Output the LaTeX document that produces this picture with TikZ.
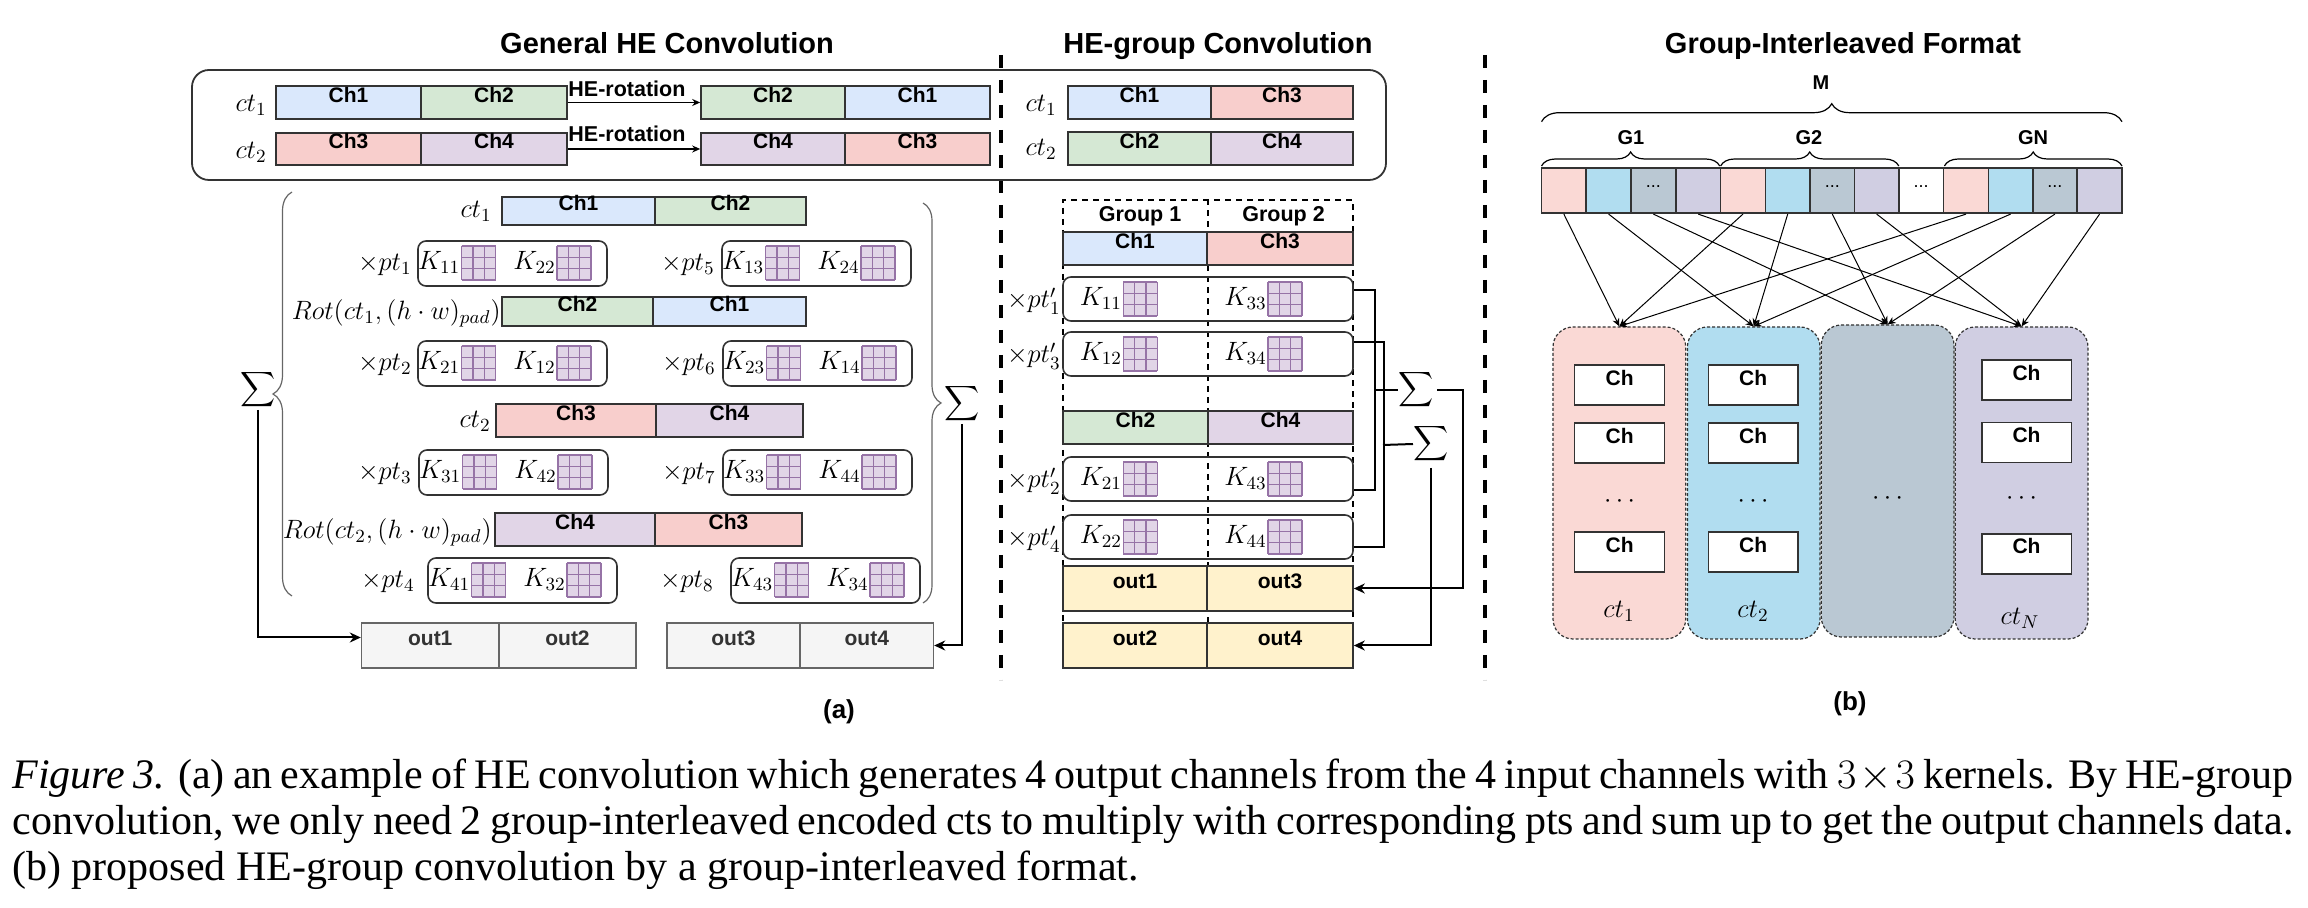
\RequirePackage{fix-cm}
\documentclass[tikz,border=0pt]{standalone}
\usepackage{fontspec}
\setmainfont{Liberation Serif}
\newfontfamily\arialf{Liberation Sans}
\usetikzlibrary{arrows.meta,fit,decorations.pathreplacing,calc}
\definecolor{chblue}{HTML}{DAE8FC}
\definecolor{chgreen}{HTML}{D5E8D4}
\definecolor{chred}{HTML}{F8CECC}
\definecolor{chpurple}{HTML}{E1D5E7}
\definecolor{bord}{HTML}{333333}
\definecolor{kline}{HTML}{9673A6}
\definecolor{kfill}{HTML}{E1D5E7}
\definecolor{ogfill}{HTML}{F5F5F5}
\definecolor{ogline}{HTML}{666666}
\definecolor{oyfill}{HTML}{FFF2CC}
\definecolor{bpink}{HTML}{FAD9D5}
\definecolor{bblue}{HTML}{B1DDF0}
\definecolor{bgray}{HTML}{BAC8D3}
\definecolor{blav}{HTML}{D0CEE2}
\newcommand{\chfont}{\arialf\bfseries\fontsize{10.5}{12}\selectfont}
\newcommand{\mfont}{\fontsize{13.25}{16}\selectfont}
\newcommand{\bigsum}{\scalebox{1.22}{$\displaystyle\sum$}}
\newcommand{\cbx}[7]{\node[#1, fit={(#3,#4)(#5,#6)}] (#2) {#7};}
\newcommand{\kent}[4]{%
  \node[mlab, anchor=base east] (#1) at (#2-1,#3+24) {$K_{#4}$};
  \pic at (#2,#3) {kg};}
\newcommand{\ptA}[7]{%
  \node[ptbox, fit={(#2,#3)(#2+189,#3+45)}] (#1) {};
  \node[mlab, anchor=base east] (#1l) at (#4,#3+30) {$\times #5$};
  \kent{#1ka}{#2+43.6}{#3+5}{#6}
  \kent{#1kb}{#2+139}{#3+5}{#7}}
\newcommand{\ptB}[5]{%
  \node[ptbox, fit={(1063,#2)(1353,#2+44)}] (#1) {};
  \node[mlab, anchor=base east] (#1l) at (1061,#2+31) {$\times #3$};
  \kent{#1ka}{1123.3}{#2+5}{#4}
  \kent{#1kb}{1268}{#2+5}{#5}}
\tikzset{
  cb/.style={draw=bord, line width=0.8pt, inner sep=0pt, font=\chfont},
  ptbox/.style={draw=bord, line width=0.8pt, rounded corners=4pt, inner sep=0pt},
  mlab/.style={font=\mfont, inner sep=0pt},
  sig/.style={inner sep=0pt},
  ogray/.style={draw=ogline, line width=0.7pt, fill=ogfill, inner sep=0pt, font=\chfont, text=bord},
  oyel/.style={draw=bord, line width=0.8pt, fill=oyfill, inner sep=0pt, font=\chfont},
  conn/.style={line width=1pt},
  arr/.style={line width=1pt, -{Stealth[length=5.5pt,width=5pt]}},
  thinarr/.style={line width=0.7pt, -{Stealth[length=4pt,width=3.5pt]}},
  barr/.style={line width=0.5pt, -{Stealth[length=4pt,width=3.5pt]}},
  sep/.style={line width=2pt, dash pattern=on 6.5pt off 6pt},
  gdash/.style={draw=black, line width=0.8pt, dash pattern=on 3pt off 2.5pt},
  gbrace/.style={draw=ogline, line width=0.6pt, decorate},
  bbrace/.style={draw=black, line width=0.6pt, decorate},
  ttl/.style={font=\arialf\bfseries\fontsize{14.5}{17}\selectfont, inner sep=0pt},
  hdr/.style={font=\arialf\bfseries\fontsize{10.75}{12}\selectfont, inner sep=0pt},
  cell/.style={draw=bord, line width=0.8pt, inner sep=0pt, font=\arialf\fontsize{9}{11}\selectfont},
  ctb/.style={draw=bord, line width=0.6pt, dash pattern=on 1.5pt off 1pt, rounded corners=10pt, inner sep=0pt},
  inb/.style={draw=bord, line width=0.8pt, fill=white, inner sep=0pt, font=\chfont},
  capt/.style={font=\fontsize{21}{24}\selectfont, inner sep=0pt},
  kg/.pic={\fill[kfill] (0,0) rectangle (34,34);
    \foreach \i in {0,11.333,22.667,34}{\draw[kline, line width=0.6pt] (\i,0)--(\i,34) (0,\i)--(34,\i);}}
}
\begin{document}
\begin{tikzpicture}[x=0.5pt,y=-0.5pt]
\useasboundingbox (0,0) rectangle (2308,908);
% titles
\node[ttl, anchor=base] (t1) at (667,54) {General HE Convolution};
\node[ttl, anchor=base] (t2) at (1218,54) {HE-group Convolution};
\node[ttl, anchor=base] (t3) at (1843,54) {Group-Interleaved Format};
% separators
\coordinate (s1a) at (1001,55); \coordinate (s1b) at (1001,680);
\coordinate (s2a) at (1485,55); \coordinate (s2b) at (1485,680);
\draw[sep] (s1a) -- (s1b);
\draw[sep] (s2a) -- (s2b);
% top box
\node[draw=bord, line width=0.9pt, rounded corners=8.5pt, inner sep=0pt, fit={(192,70)(1386,180)}] (topbox) {};
\node[mlab, anchor=base east] (l1) at (267,112) {$ct_1$};
\node[mlab, anchor=base east] (l2) at (267,159) {$ct_2$};
\cbx{cb,fill=chblue}{a1}{276}{86}{421}{119}{Ch1}
\cbx{cb,fill=chgreen}{a2}{421}{86}{567}{119}{Ch2}
\cbx{cb,fill=chred}{a3}{276}{133}{421}{165}{Ch3}
\cbx{cb,fill=chpurple}{a4}{421}{133}{567}{165}{Ch4}
\cbx{cb,fill=chgreen}{b2}{701}{86}{845}{119}{Ch2}
\cbx{cb,fill=chblue}{b1}{845}{86}{990}{119}{Ch1}
\cbx{cb,fill=chpurple}{b4}{701}{133}{845}{165}{Ch4}
\cbx{cb,fill=chred}{b3}{845}{133}{990}{165}{Ch3}
\draw[thinarr] (a2.east) -- (b2.west);
\draw[thinarr] (a4.east) -- (b4.west);
\node[hdr, anchor=base west] (hr1) at (568,97) {HE-rotation};
\node[hdr, anchor=base west] (hr2) at (568,142) {HE-rotation};
\node[mlab, anchor=base east] (g1l) at (1057,112) {$ct_1$};
\node[mlab, anchor=base east] (g2l) at (1057,156) {$ct_2$};
\cbx{cb,fill=chblue}{g1}{1068}{86}{1211}{119}{Ch1}
\cbx{cb,fill=chred}{g3}{1211}{86}{1353}{119}{Ch3}
\cbx{cb,fill=chgreen}{g2}{1068}{132}{1211}{165}{Ch2}
\cbx{cb,fill=chpurple}{g4}{1211}{132}{1353}{165}{Ch4}
% ---- general convolution lower part
\node[mlab, anchor=base east] (lc1) at (492,218) {$ct_1$};
\cbx{cb,fill=chblue}{r1a}{502}{197}{655}{225}{Ch1}
\cbx{cb,fill=chgreen}{r1b}{655}{197}{806}{225}{Ch2}
\ptA{p1}{418}{241}{412}{pt_1}{11}{22}
\ptA{p5}{722}{241}{715}{pt_5}{13}{24}
\node[mlab, anchor=base east] (rot1) at (501,320) {$Rot(ct_1,(h\cdot w)_{pad})$};
\cbx{cb,fill=chgreen}{r2a}{502}{297}{653}{326}{Ch2}
\cbx{cb,fill=chblue}{r2b}{653}{297}{806}{326}{Ch1}
\ptA{p2}{418}{341}{412}{pt_2}{21}{12}
\ptA{p6}{723}{341}{716}{pt_6}{23}{14}
\node[mlab, anchor=base east] (lc2) at (491,428) {$ct_2$};
\cbx{cb,fill=chred}{r3a}{496}{404}{656}{437}{Ch3}
\cbx{cb,fill=chpurple}{r3b}{656}{404}{803}{437}{Ch4}
\ptA{p3}{419}{450}{412}{pt_3}{31}{42}
\ptA{p7}{723}{450}{716}{pt_7}{33}{44}
\node[mlab, anchor=base east] (rot2) at (492,539) {$Rot(ct_2,(h\cdot w)_{pad})$};
\cbx{cb,fill=chpurple}{r4a}{495}{513}{655}{546}{Ch4}
\cbx{cb,fill=chred}{r4b}{655}{513}{802}{546}{Ch3}
\ptA{p4}{428}{558}{415}{pt_4}{41}{32}
\ptA{p8}{731}{558}{714}{pt_8}{43}{34}
\draw[gbrace, decoration={brace, amplitude=9.5pt}] (292,596) -- (292,192);
\draw[gbrace, decoration={brace, amplitude=9pt}] (923,203) -- (923,603);
\node[sig] (sigL) at (258,390) {\bigsum};
\node[sig] (sigR) at (962,404) {\bigsum};
\cbx{ogray}{o1}{361.5}{623}{499}{668}{out1}
\cbx{ogray}{o2}{499}{623}{636}{668}{out2}
\cbx{ogray}{o3}{667}{623}{800}{668}{out3}
\cbx{ogray}{o4}{800}{623}{933.5}{668}{out4}
\draw[arr] (sigL.south) |- ([yshift=4pt]o1.west);
\draw[arr] (sigR.south) |- (o4.east);
\node[hdr, font=\arialf\bfseries\fontsize{13}{15}\selectfont] (capa) at (839,712) {(a)};
% ---- HE-group lower part
\node[gdash, inner sep=0pt, fit={(1062.7,200)(1352.7,668)}] (grp) {};
\draw[gdash] (grp.north) -- (grp.south);
\node[hdr, anchor=base] (h1) at (1140,222) {Group 1};
\node[hdr, anchor=base] (h2) at (1283.5,222) {Group 2};
\cbx{cb,fill=chblue}{q1}{1063}{232}{1207}{265}{Ch1}
\cbx{cb,fill=chred}{q3}{1207}{232}{1353}{265}{Ch3}
\ptB{s1}{277}{pt'_1}{11}{33}
\ptB{s3}{332}{pt'_3}{12}{34}
\cbx{cb,fill=chgreen}{q2}{1063}{411}{1208}{444}{Ch2}
\cbx{cb,fill=chpurple}{q4}{1208}{411}{1353}{444}{Ch4}
\ptB{s2}{457}{pt'_2}{21}{43}
\ptB{s4}{515}{pt'_4}{22}{44}
\cbx{oyel}{y1}{1063}{566}{1207}{611}{out1}
\cbx{oyel}{y3}{1207}{566}{1353}{611}{out3}
\cbx{oyel}{y2}{1063}{623}{1207}{668}{out2}
\cbx{oyel}{y4}{1207}{623}{1353}{668}{out4}
\node[sig] (sig1) at (1416,390) {\bigsum};
\node[sig] (sig2) at (1431,444) {\bigsum};
\draw[conn] ([yshift=4.5pt]s1.east) -- ++(21.6,0) |- ([yshift=-5.5pt]s2.east);
\draw[conn] ([yshift=6pt]s3.east) -- ++(30,0) |- ([yshift=-5pt]s4.east);
\coordinate (j1) at (1374.6,390);
\coordinate (j2) at (1383,445);
\draw[conn] (j1) -- (sig1.west);
\draw[conn] (j2) -- (sig2.west);
\coordinate (t1r) at (1463.3,390);
\draw[arr] ([xshift=1.5pt]sig1.east) -- (t1r) |- (y3.east);
\draw[arr] ([yshift=-2pt]sig2.south) |- (y4.east);
% ---- part (b)
\node[hdr, font=\arialf\bfseries\fontsize{10}{12}\selectfont] (mM) at (1821,82.5) {M};
\draw[bbrace, decoration={brace, amplitude=9pt}] (1541.5,121.7) -- (2122,121.7);
\node[hdr, font=\arialf\bfseries\fontsize{10}{12}\selectfont] (G1) at (1631,137.5) {G1};
\node[hdr, font=\arialf\bfseries\fontsize{10}{12}\selectfont] (G2) at (1809,137.5) {G2};
\node[hdr, font=\arialf\bfseries\fontsize{10}{12}\selectfont] (GN) at (2033,137.5) {GN};
\draw[bbrace, decoration={brace, amplitude=7pt}] (1541.5,166) -- (1719.7,166);
\draw[bbrace, decoration={brace, amplitude=7pt}] (1720.6,166) -- (1898.8,166);
\draw[bbrace, decoration={brace, amplitude=7pt}] (1944.4,166) -- (2122,166);
\cbx{cell,fill=bpink}{c1}{1541.5}{168.3}{1586.2}{213.3}{}
\cbx{cell,fill=bblue}{c2}{1586.2}{168.3}{1631}{213.3}{}
\cbx{cell,fill=bgray}{c3}{1631}{168.3}{1675.8}{213.3}{\strut...}
\cbx{cell,fill=blav}{c4}{1675.8}{168.3}{1720.6}{213.3}{}
\cbx{cell,fill=bpink}{c5}{1720.6}{168.3}{1765.3}{213.3}{}
\cbx{cell,fill=bblue}{c6}{1765.3}{168.3}{1810.1}{213.3}{}
\cbx{cell,fill=bgray}{c7}{1810.1}{168.3}{1854.5}{213.3}{\strut...}
\cbx{cell,fill=blav}{c8}{1854.5}{168.3}{1898.8}{213.3}{}
\cbx{cell,fill=white}{c9}{1898.8}{168.3}{1943.6}{213.3}{\strut...}
\cbx{cell,fill=bpink}{c10}{1943.6}{168.3}{1988.4}{213.3}{}
\cbx{cell,fill=bblue}{c11}{1988.4}{168.3}{2032.7}{213.3}{}
\cbx{cell,fill=bgray}{c12}{2032.7}{168.3}{2077.1}{213.3}{\strut...}
\cbx{cell,fill=blav}{c13}{2077.1}{168.3}{2122}{213.3}{}
\node[ctb, fill=bpink, fit={(1553,327)(1685.7,639)}] (ct1) {};
\node[ctb, fill=bblue, fit={(1687.4,327)(1820,639)}] (ct2) {};
\node[ctb, fill=bgray, fit={(1821.3,325)(1954,637)}] (ct3) {};
\node[ctb, fill=blav, fit={(1955.2,327)(2088,639)}] (ctN) {};
\foreach \s/\t in {c1/ct1,c5/ct1,c10/ct1,c2/ct2,c6/ct2,c11/ct2,c3/ct3,c7/ct3,c12/ct3,c4/ctN,c8/ctN,c13/ctN}
  {\draw[barr] (\s.south) -- (\t.north);}
\cbx{inb}{ct1a}{1574.6}{365.3}{1664.6}{405.3}{Ch}
\cbx{inb}{ct1b}{1574.6}{423.3}{1664.6}{463.3}{Ch}
\cbx{inb}{ct1c}{1574.6}{532.3}{1664.6}{572.3}{Ch}
\node[mlab] (ct1d) at (1619.6,501.7) {$\cdots$};
\node[mlab] (ct1l) at (1619,611.7) {$ct_1$};
\cbx{inb}{ct2a}{1708.5}{365.3}{1797.7}{405.3}{Ch}
\cbx{inb}{ct2b}{1708.5}{423.3}{1797.7}{463.3}{Ch}
\cbx{inb}{ct2c}{1708.5}{532.3}{1797.7}{572.3}{Ch}
\node[mlab] (ct2d) at (1753,501.7) {$\cdots$};
\node[mlab] (ct2l) at (1753,611.7) {$ct_2$};
\node[mlab] (ct3d) at (1887.6,499) {$\cdots$};
\cbx{inb}{ctNa}{1981.8}{360.3}{2071.3}{400.3}{Ch}
\cbx{inb}{ctNb}{1981.8}{422.7}{2071.3}{462.7}{Ch}
\cbx{inb}{ctNc}{1981.8}{534}{2071.3}{574}{Ch}
\node[mlab] (ctNd) at (2021.5,499) {$\cdots$};
\node[mlab] (ctNl) at (2020,618) {$ct_N$};
\node[hdr, font=\arialf\bfseries\fontsize{13}{15}\selectfont] (capb) at (1850,704) {(b)};
% ---- caption
\node[capt, anchor=base west] (cap1) at (12,788) {\makebox[1140.5pt][s]{\textit{Figure 3.} (a) an example of HE convolution which generates 4 output channels from the 4 input channels with $3\times 3$ kernels. By HE-group}};
\node[capt, anchor=base west] (cap2) at (12,834) {\makebox[1140.5pt][s]{convolution, we only need 2 group-interleaved encoded cts to multiply with corresponding pts and sum up to get the output channels data.}};
\node[capt, anchor=base west] (cap3) at (12,880) {(b) proposed HE-group convolution by a group-interleaved format.};
\end{tikzpicture}
\end{document}
